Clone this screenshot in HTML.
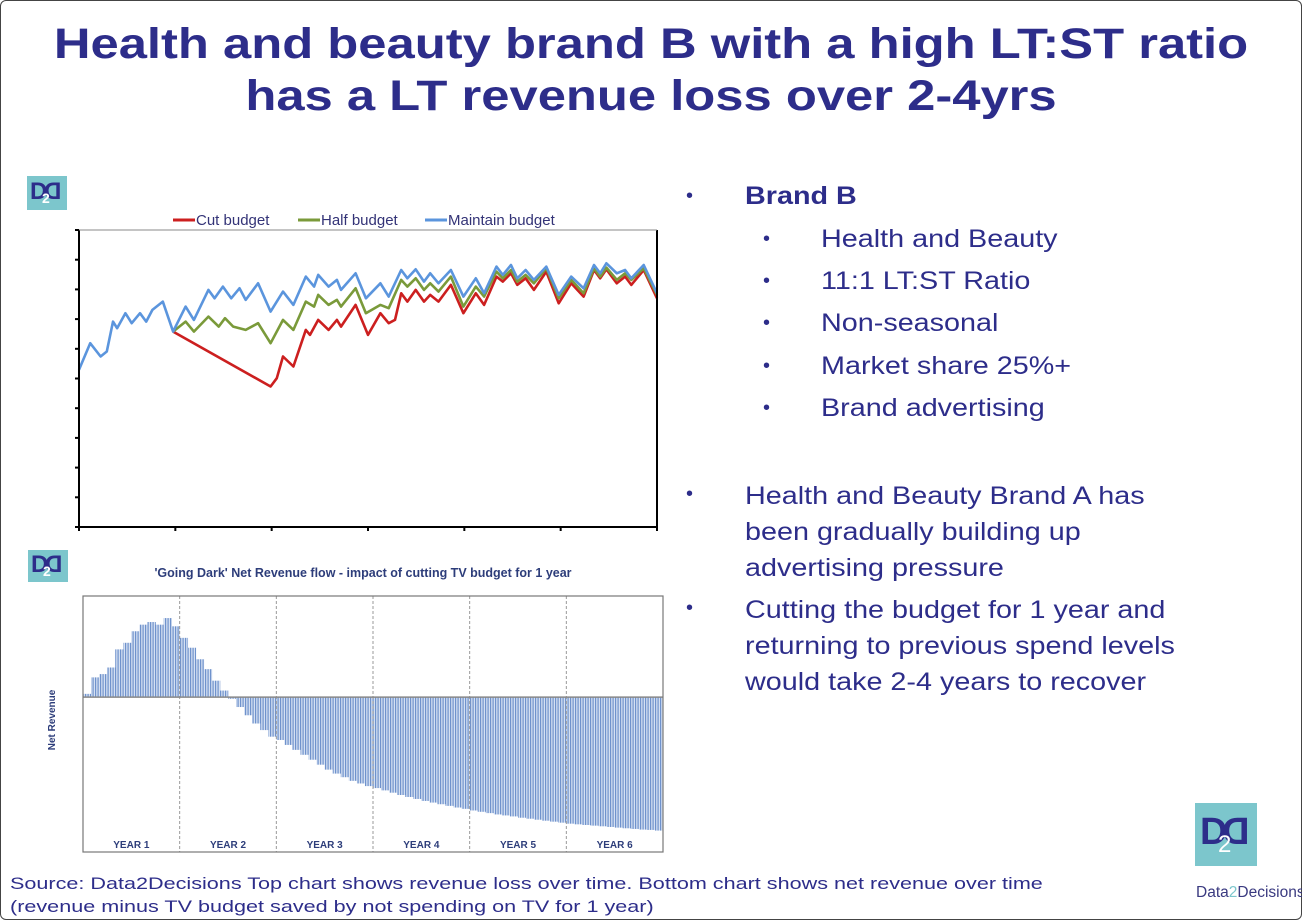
<!DOCTYPE html>
<html><head><meta charset="utf-8"><style>
body{margin:0;width:1302px;height:920px;overflow:hidden;background:#fff;font-family:"Liberation Sans",sans-serif;}
#frame{position:absolute;left:0;top:0;width:1300px;height:918px;border:1px solid #444;border-radius:6px;}
.t{position:absolute;color:#2d2d8a;white-space:nowrap;}
.s{transform:scaleX(1.15);transform-origin:left top;}
.logo{position:absolute;background:#7cc6cc;}
.logo span{position:absolute;font-family:"Liberation Sans",sans-serif;font-weight:bold;color:#2d2d8a;}
</style></head><body>
<div id="frame"></div>
<div class="t" style="left:0;width:1302px;text-align:center;top:18px;font-size:43px;font-weight:bold;line-height:52px;transform:scaleX(1.18);transform-origin:center top;">Health and beauty brand B with a high LT:ST ratio<br>has a LT revenue loss over 2-4yrs</div>

<div class="logo" style="left:27px;top:176px;width:40px;height:34px;"><span style="left:3px;top:2px;font-size:24px;">D</span><span style="left:17px;top:2px;font-size:24px;transform:scaleX(-1);">D</span><span style="left:15px;top:14px;font-size:14px;color:#fff;">2</span></div>
<div class="logo" style="left:28px;top:550px;width:40px;height:32px;"><span style="left:3px;top:1px;font-size:24px;">D</span><span style="left:17px;top:1px;font-size:24px;transform:scaleX(-1);">D</span><span style="left:15px;top:13px;font-size:14px;color:#fff;">2</span></div>
<div class="logo" style="left:1195px;top:803px;width:62px;height:63px;"><span style="left:5px;top:8px;font-size:38px;">D</span><span style="left:27px;top:8px;font-size:38px;transform:scaleX(-1);">D</span><span style="left:23px;top:28px;font-size:24px;color:#fff;font-weight:normal;">2</span></div>
<div class="t" style="left:1196px;top:884px;font-size:15.5px;color:#3a3a80;">Data<span style="color:#7cc6cc">2</span>Decisions</div>

<svg id="top" style="position:absolute;left:0;top:0" width="700" height="540"></svg>
<svg id="bot" style="position:absolute;left:0;top:0" width="700" height="870"></svg>

<div>
<div class="t" style="left:686px;top:185px;font-size:20px;">•</div>
<div class="t s" style="left:745px;top:182px;font-size:25px;font-weight:bold;">Brand B</div>
<div class="t" style="left:763px;top:228px;font-size:20px;">•</div><div class="t s" style="left:821px;top:225px;font-size:25px;">Health and Beauty</div>
<div class="t" style="left:763px;top:270px;font-size:20px;">•</div><div class="t s" style="left:821px;top:267px;font-size:25px;">11:1 LT:ST Ratio</div>
<div class="t" style="left:763px;top:312px;font-size:20px;">•</div><div class="t s" style="left:821px;top:309px;font-size:25px;">Non-seasonal</div>
<div class="t" style="left:763px;top:355px;font-size:20px;">•</div><div class="t s" style="left:821px;top:352px;font-size:25px;">Market share 25%+</div>
<div class="t" style="left:763px;top:397px;font-size:20px;">•</div><div class="t s" style="left:821px;top:394px;font-size:25px;">Brand advertising</div>
<div class="t" style="left:686px;top:483px;font-size:20px;">•</div>
<div class="t s" style="left:745px;top:478px;font-size:25px;line-height:36px;">Health and Beauty Brand A has<br>been gradually building up<br>advertising pressure</div>
<div class="t" style="left:686px;top:597px;font-size:20px;">•</div>
<div class="t s" style="left:745px;top:592px;font-size:25px;line-height:36px;">Cutting the budget for 1 year and<br>returning to previous spend levels<br>would take 2-4 years to recover</div>
</div>
<div class="t" style="left:10px;top:872px;font-size:17px;line-height:23px;transform:scaleX(1.27);transform-origin:left top;">Source: Data2Decisions Top chart shows revenue loss over time. Bottom chart shows net revenue over time<br>(revenue minus TV budget saved by not spending on TV for 1 year)</div>

<script>
const NS='http://www.w3.org/2000/svg';
function mk(p,tag,a){const e=document.createElementNS(NS,tag);for(const k in a)e.setAttribute(k,a[k]);p.appendChild(e);return e;}
// ---- top chart data ----
const maintainT=[0,27,52,67,82,92,112,127,147,162,177,202,227,257,277,312,327,347,367,387,402,432,462,492,517,547,567,577,602,622,632,667,692,727,747,777,792,812,832,847,867,897,927,957,977,1007,1022,1042,1057,1077,1097,1127,1157,1187,1217,1242,1257,1272,1297,1317,1332,1362,1394];
const maintainV=[472,552,512,527,617,597,642,612,642,617,652,677,587,662,622,712,687,722,687,717,682,732,647,707,667,752,722,757,722,742,712,762,687,732,692,772,747,774,737,762,732,772,692,747,702,782,757,787,747,772,742,782,697,752,717,787,762,792,762,772,747,787,702];
const halfT=[227,257,277,312,337,352,372,402,432,462,492,517,547,567,577,602,622,632,667,692,727,747,777,792,812,832,847,867,897,927,957,977,1007,1022,1042,1057,1077,1097,1127,1157,1187,1217,1242,1257,1272,1297,1317,1332,1362,1394];
const halfV=[587,617,587,632,602,627,602,592,612,552,622,592,677,662,697,667,682,662,717,642,667,657,742,722,747,712,732,707,752,662,722,692,767,747,772,737,757,732,777,687,742,702,777,752,779,742,762,742,777,697];
const cutT=[227,462,477,492,517,547,557,577,602,622,632,667,697,727,747,762,777,792,812,832,847,867,897,927,957,977,1007,1022,1042,1057,1077,1097,1127,1157,1187,1217,1242,1257,1272,1297,1317,1332,1362,1394];
const cutV=[587,422,447,512,482,592,577,622,592,622,602,667,577,642,612,622,702,677,712,677,697,677,727,642,702,667,752,737,762,727,747,712,767,672,732,692,772,747,774,732,752,727,772,687];
const yTicks=[0,1,2,3,4,5,6,7,8,9,10];
const xTicks=[0,1,2,3,4,5,6];
const T=document.getElementById('top');
const L=79,R=657,TOP=230,BOT=527;
const sx=t=>L+t/1394*(R-L), sy=v=>BOT-v/892*(BOT-TOP);
function series(ts,vs,col,name){const pts=ts.map((t,i)=>sx(t).toFixed(1)+','+sy(vs[i]).toFixed(1)).join(' ');
 const p=mk(T,'polyline',{points:pts,fill:'none',stroke:col,'stroke-width':2.6,'stroke-linejoin':'round'});
 }
series(cutT,cutV,'#cc1f1f','cut-budget-line');
series(halfT,halfV,'#7a9a3a','half-budget-line');
series(maintainT,maintainV,'#5b95dd','maintain-budget-line');
let ax=mk(T,'path',{d:`M${L} ${TOP}V${BOT}H${R}V${TOP}`,fill:'none',stroke:'#000','stroke-width':2});

mk(T,'line',{x1:L,y1:TOP,x2:R,y2:TOP,stroke:'#888','stroke-width':1});
yTicks.forEach(k=>{const y=BOT-k*(BOT-TOP)/10;const e=mk(T,'line',{x1:L-4,y1:y,x2:L,y2:y,stroke:'#000','stroke-width':2});});
xTicks.forEach(k=>{const x=L+k*(R-L)/6;const e=mk(T,'line',{x1:x,y1:BOT,x2:x,y2:BOT+4,stroke:'#000','stroke-width':2});});
const legendNames=['Cut budget','Half budget','Maintain budget'],legendCols=['#cc1f1f','#7a9a3a','#5b95dd'],legendX=[173,298,425];
legendNames.forEach((n,i)=>{const g=mk(T,'g',{});
 mk(g,'line',{x1:legendX[i],y1:220,x2:legendX[i]+22,y2:220,stroke:legendCols[i],'stroke-width':3});
 const tx=mk(g,'text',{x:legendX[i]+23,y:225,'font-size':15,fill:'#333377','font-family':'Liberation Sans, sans-serif'});tx.textContent=n;});
// ---- bottom chart data ----
const netMonths=[0,1,2,3,4,5,6,7,8,9,10,11,12,13,14,15,16,17,18,19,20,21,22,23,24,25,26,27,28,29,30,31,32,33,34,35,36,37,38,39,40,41,42,43,44,45,46,47,48,49,50,51,52,53,54,55,56,57,58,59,60,61,62,63,64,65,66,67,68,69,70,71];
const netValues=[10,60,70,90,145,165,200,220,228,220,240,215,180,150,115,85,50,20,-5,-30,-55,-80,-100,-120,-130,-145,-160,-175,-190,-205,-220,-232,-243,-254,-262,-270,-276,-283,-290,-297,-303,-309,-315,-320,-325,-330,-335,-339,-344,-348,-352,-356,-359,-362,-366,-369,-372,-375,-378,-381,-384,-386,-388,-390,-392,-394,-396,-398,-400,-402,-403,-405];
const yearLabels=['YEAR 1','YEAR 2','YEAR 3','YEAR 4','YEAR 5','YEAR 6'];
const B=document.getElementById('bot');
const BL=83,BR=663,BT=596,BB=852;
const bx=m=>BL+m*(BR-BL)/72, by=v=>BB-(v+470)/777*(BB-BT);
const defs=mk(B,'defs',{});const pat=mk(defs,'pattern',{id:'st',width:2.5,height:4,patternUnits:'userSpaceOnUse'});
mk(pat,'rect',{x:0,y:0,width:2.5,height:4,fill:'#d5e0f2'});mk(pat,'rect',{x:0,y:0,width:1.2,height:4,fill:'#6f92cc'});
netMonths.forEach((m,i)=>{const v=netValues[i];const y0=by(0),y1=by(v);
 const r=mk(B,'rect',{x:bx(m),y:Math.min(y0,y1),width:(BR-BL)/72+0.3,height:Math.abs(y1-y0),fill:'url(#st)'});
 });
for(let k=1;k<6;k++){const x=BL+k*(BR-BL)/6;const e=mk(B,'line',{x1:x,y1:BT,x2:x,y2:BB,stroke:'#999','stroke-width':1,'stroke-dasharray':'3,2'});}
let zl=mk(B,'line',{x1:BL,y1:by(0),x2:BR,y2:by(0),stroke:'#888','stroke-width':1.5});
let fr=mk(B,'rect',{x:BL,y:BT,width:BR-BL,height:BB-BT,fill:'none',stroke:'#777','stroke-width':1.2});
yearLabels.forEach((n,i)=>{const t=mk(B,'text',{x:BL+(i+0.5)*(BR-BL)/6,y:848,'text-anchor':'middle','font-size':10,'font-weight':'bold',fill:'#2d3d7a','font-family':'Liberation Sans, sans-serif'});t.textContent=n;});
let tt=mk(B,'text',{x:363,y:577,'text-anchor':'middle','font-size':12.5,'font-weight':'bold',fill:'#2d3d7a','font-family':'Liberation Sans, sans-serif'});tt.textContent="'Going Dark' Net Revenue flow - impact of cutting TV budget for 1 year";
let yl=mk(B,'text',{x:0,y:0,transform:'translate(55,720) rotate(-90)','text-anchor':'middle','font-size':10,'font-weight':'bold',fill:'#2d3d7a','font-family':'Liberation Sans, sans-serif'});yl.textContent='Net Revenue';
</script>
</body></html>
